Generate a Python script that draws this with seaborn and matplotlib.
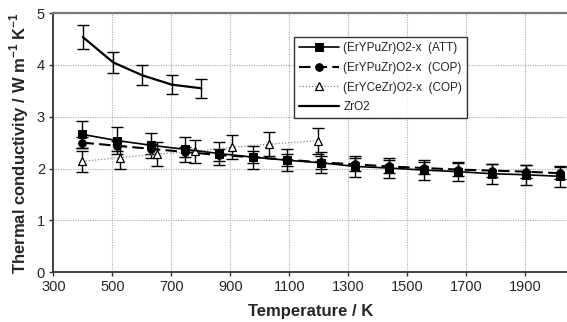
import matplotlib
matplotlib.use("Agg")
import matplotlib.pyplot as plt
import seaborn as sns
import pandas as pd

# ---- data ----
att_T = [399, 516, 631, 748, 862, 977, 1093, 1209, 1324, 1439, 1556, 1671, 1787, 1902, 2017]
att_k = [2.66, 2.54, 2.45, 2.37, 2.29, 2.22, 2.16, 2.11, 2.04, 2.01, 1.97, 1.94, 1.90, 1.88, 1.85]
att_err = [0.26, 0.26, 0.24, 0.24, 0.22, 0.22, 0.21, 0.2, 0.2, 0.19, 0.2, 0.19, 0.19, 0.19, 0.2]

cop_T = [399, 516, 631, 748, 862, 977, 1093, 1209, 1324, 1439, 1556, 1671, 1787, 1902, 2017]
cop_k = [2.50, 2.44, 2.38, 2.32, 2.26, 2.22, 2.17, 2.12, 2.08, 2.04, 2.01, 1.98, 1.96, 1.94, 1.91]
cop_err = [0.1, 0.1, 0.1, 0.1, 0.12, 0.12, 0.12, 0.12, 0.12, 0.12, 0.12, 0.12, 0.12, 0.12, 0.12]

ce_T = [399, 526, 652, 779, 906, 1032, 1199]
ce_k = [2.14, 2.21, 2.28, 2.33, 2.41, 2.47, 2.54]
ce_err = [0.2, 0.22, 0.23, 0.23, 0.23, 0.23, 0.25]

zr_T = [400, 503, 602, 702, 802]
zr_k = [4.54, 4.05, 3.80, 3.62, 3.55]
zr_err = [0.23, 0.2, 0.19, 0.18, 0.18]

labels = ["(ErYPuZr)O2-x  (ATT)", "(ErYPuZr)O2-x  (COP)", "(ErYCeZr)O2-x  (COP)", "ZrO2"]
x_ticks = [300, 500, 700, 900, 1100, 1300, 1500, 1700, 1900]
y_ticks = [0, 1, 2, 3, 4, 5]

sns.set_style("white")
plt.rcParams["font.family"] = ["Liberation Sans", "DejaVu Sans"]
plt.rcParams["mathtext.fontset"] = "custom"
plt.rcParams["mathtext.rm"] = "Liberation Sans"
plt.rcParams["mathtext.bf"] = "Liberation Sans:bold"

fig = plt.figure(figsize=(5.67, 3.22), dpi=100)
ax = fig.add_axes([0.094, 0.155, 0.906, 0.804])

ebkw = dict(fmt="none", ecolor="black", elinewidth=1.0, capsize=4, capthick=1.0, zorder=2)

# error bars
ax.errorbar(att_T, att_k, yerr=att_err, **ebkw)
ax.errorbar(cop_T, cop_k, yerr=cop_err, **ebkw)
ax.errorbar(ce_T, ce_k, yerr=ce_err, **ebkw)
ax.errorbar(zr_T, zr_k, yerr=zr_err, **ebkw)

df_att = pd.DataFrame({"T": att_T, "k": att_k})
df_cop = pd.DataFrame({"T": cop_T, "k": cop_k})
df_ce = pd.DataFrame({"T": ce_T, "k": ce_k})
df_zr = pd.DataFrame({"T": zr_T, "k": zr_k})

sns.lineplot(data=df_att, x="T", y="k", ax=ax, color="black", lw=1.2, marker="s",
             markersize=6, markeredgecolor="black", label=labels[0], zorder=4)
sns.lineplot(data=df_cop, x="T", y="k", ax=ax, color="black", lw=1.5, marker="o",
             markersize=5.5, markeredgecolor="black", label=labels[1], zorder=3)
ax.lines[-1].set_dashes([5.5, 2.5])
sns.lineplot(data=df_ce, x="T", y="k", ax=ax, color="#888888", lw=0.9, marker="^",
             markersize=6, markerfacecolor="white", markeredgecolor="black",
             markeredgewidth=0.9, label=labels[2], zorder=3)
ax.lines[-1].set_linestyle((0, (1, 1.5)))
sns.lineplot(data=df_zr, x="T", y="k", ax=ax, color="black", lw=1.6, label=labels[3], zorder=3)

ax.set_xlim(300, 2042)
ax.set_ylim(0, 5)
ax.set_xticks(x_ticks)
ax.set_yticks(y_ticks)
ax.set_xticklabels([str(t) for t in x_ticks], fontsize=10.5)
ax.set_yticklabels([str(t) for t in y_ticks], fontsize=10.5)

ax.grid(True, color="#aaaaaa", linestyle=(0, (1, 1.2)), linewidth=0.8)
ax.set_axisbelow(True)

ax.tick_params(axis="both", direction="out", length=3, width=1, color="#333333",
               left=True, bottom=True, pad=3)

for s in ["left", "bottom"]:
    ax.spines[s].set_color("#333333")
    ax.spines[s].set_linewidth(1.3)
ax.spines["top"].set_color("#777777")
ax.spines["top"].set_linewidth(1.6)
ax.spines["right"].set_visible(False)

ax.set_xlabel("Temperature / K", fontsize=12, fontweight="bold", labelpad=7)
ax.set_ylabel(r"Thermal conductivity / W m$^{\mathbf{-1}}$ K$^{\mathbf{-1}}$",
              fontsize=12, fontweight="bold", labelpad=4)

leg = ax.legend(loc="upper left", bbox_to_anchor=(0.469, 0.907), fontsize=8.5,
                frameon=True, fancybox=False, shadow=False, handlelength=3.4,
                labelspacing=0.66, borderpad=0.4, handletextpad=0.35,
                borderaxespad=0)
leg.get_frame().set_edgecolor("black")
leg.get_frame().set_linewidth(1.0)

fig.savefig("out.png", dpi=100)
